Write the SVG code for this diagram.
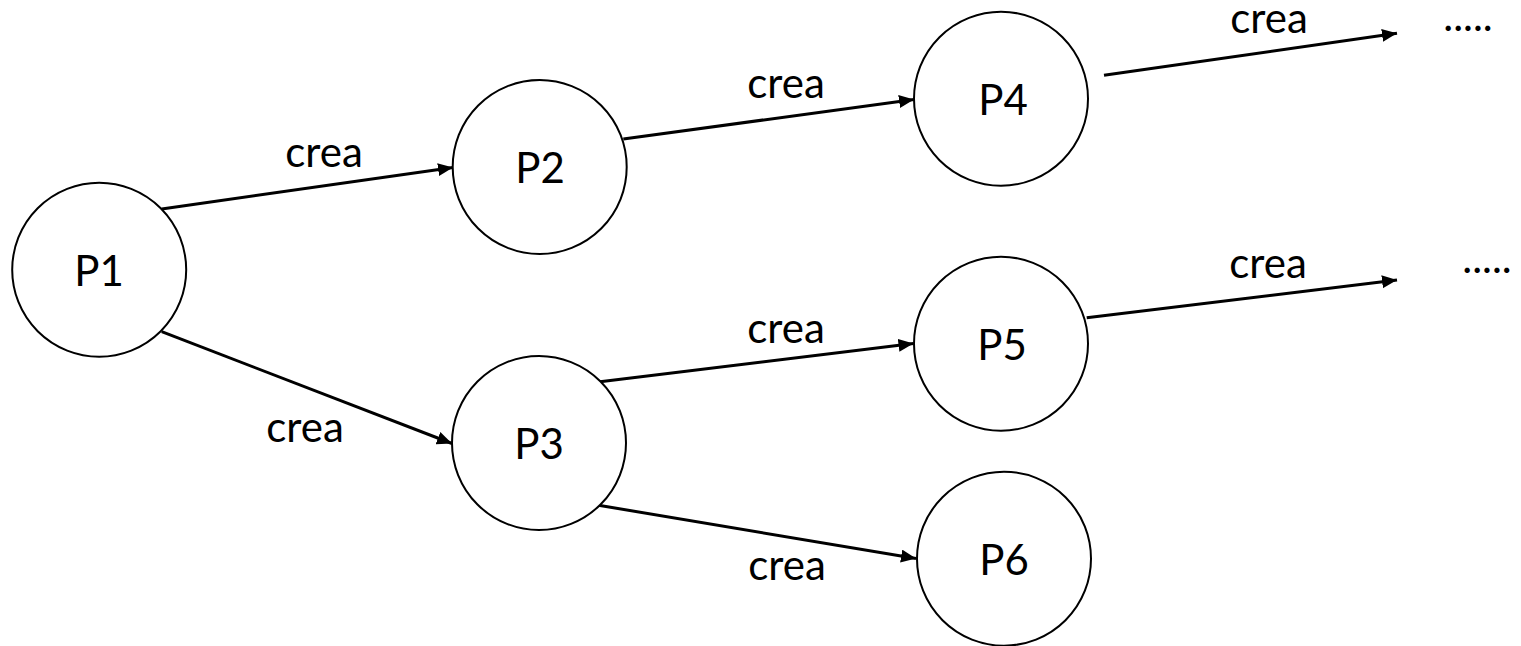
<svg xmlns="http://www.w3.org/2000/svg" width="1521" height="646" viewBox="0 0 1521 646">
<style>
.node circle{fill:#fff;stroke:#000;stroke-width:2}
text{font-family:Lato,"Liberation Sans",sans-serif;font-size:42px;fill:#000;text-anchor:middle}
.edge{stroke:#000;stroke-width:3;fill:none;marker-end:url(#ah)}
</style>
<defs>
<marker id="ah" markerUnits="userSpaceOnUse" markerWidth="16" markerHeight="14" refX="15" refY="6.5" orient="auto">
<path d="M0,0 L15,6.5 L0,13 z" fill="#000"/>
</marker>
</defs>
<rect width="1521" height="646" fill="#fff"/>
<g id="connectors">
<line class="edge" x1="161.7" y1="209" x2="453" y2="167.5"/>
<line class="edge" x1="161.7" y1="331.7" x2="452" y2="443.5"/>
<line class="edge" x1="623.3" y1="139" x2="914" y2="99.5"/>
<line class="edge" x1="600" y1="381.7" x2="913.5" y2="343.5"/>
<line class="edge" x1="597" y1="505" x2="916" y2="558.5"/>
<line class="edge" x1="1104" y1="75.3" x2="1397" y2="33.3"/>
<line class="edge" x1="1086.7" y1="317.7" x2="1397" y2="280"/>
</g>
<g id="labels">
<text x="324" y="167">crea</text>
<text x="305" y="442">crea</text>
<text x="786" y="98">crea</text>
<text x="786" y="343">crea</text>
<text x="787" y="580">crea</text>
<text x="1269" y="33">crea</text>
<text x="1268" y="278">crea</text>
<text x="1468" y="31">.....</text>
<text x="1487" y="273">.....</text>
</g>
<g id="P1" class="node"><circle cx="99.2" cy="269.7" r="87"/><text x="99" y="286">P1</text></g>
<g id="P2" class="node"><circle cx="539.7" cy="167" r="87"/><text x="540" y="183">P2</text></g>
<g id="P3" class="node"><circle cx="539" cy="443" r="87"/><text x="539" y="459">P3</text></g>
<g id="P4" class="node"><circle cx="1001" cy="98.7" r="87"/><text x="1003" y="115">P4</text></g>
<g id="P5" class="node"><circle cx="1001" cy="343.7" r="87"/><text x="1002" y="360">P5</text></g>
<g id="P6" class="node"><circle cx="1004" cy="558.7" r="87"/><text x="1004" y="575">P6</text></g>
</svg>
